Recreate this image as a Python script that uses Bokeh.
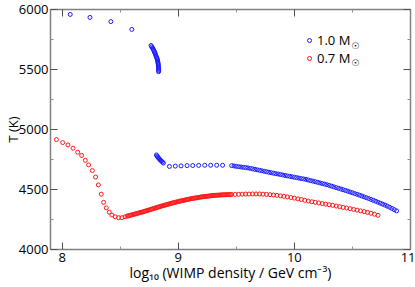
from bokeh.plotting import figure
from bokeh.models import (Range1d, LinearAxis, FixedTicker, Label, Legend,
                          LegendItem, CustomJSTickFormatter)
from bokeh.embed import file_html
from bokeh.resources import INLINE

FONT = "Open Sans"

# ---------------- data ----------------
x_start, x_end = 7.9, 11.0
y_start, y_end = 4000, 6000
x_major = [8, 9, 10, 11]
x_minor = [8.5, 9.5, 10.5]
y_major = [4000, 4500, 5000, 5500, 6000]
y_minor = [4250, 4750, 5250, 5750]

x_title = "log\u2081\u2080 (WIMP density / GeV cm\u207b\u00b3)"
y_title = "T (K)"
series_labels = ["1.0 M", "0.7 M"]

# 1.0 solar mass (blue)
blue_logrho = [
    8.07, 8.24, 8.42, 8.60,
    8.766, 8.772, 8.778, 8.784, 8.789, 8.794, 8.798, 8.802, 8.806, 8.810, 8.814, 8.818,
    8.821, 8.823, 8.825, 8.827, 8.828, 8.829, 8.830, 8.830, 8.831, 8.831, 8.831,
    8.812, 8.818, 8.824, 8.831, 8.838, 8.846, 8.855, 8.864, 8.872,
    8.924, 8.975, 9.024, 9.076, 9.125, 9.176, 9.228, 9.279, 9.331, 9.382,
    9.46, 9.48, 9.50, 9.52, 9.54, 9.56, 9.58, 9.60, 9.62, 9.64, 9.66, 9.68, 9.70,
    9.72, 9.74, 9.76, 9.78, 9.80, 9.82, 9.84, 9.86, 9.88, 9.90, 9.92, 9.94, 9.96,
    9.98, 10.00, 10.02, 10.04, 10.06, 10.08, 10.10, 10.12, 10.14, 10.16, 10.18,
    10.20, 10.22, 10.24, 10.26, 10.28, 10.30, 10.32, 10.34, 10.36, 10.38, 10.40,
    10.42, 10.44, 10.46, 10.48, 10.50, 10.52, 10.54, 10.56, 10.58, 10.60, 10.62,
    10.64, 10.66, 10.68, 10.70, 10.72, 10.74, 10.76, 10.78, 10.80, 10.82, 10.84,
    10.86, 10.88,
]
blue_T = [
    5959, 5934, 5899, 5834,
    5700, 5690, 5680, 5670, 5660, 5650, 5640, 5630, 5620, 5610, 5600, 5590,
    5580, 5570, 5560, 5550, 5540, 5530, 5520, 5510, 5500, 5490, 5482,
    4788, 4779, 4770, 4762, 4754, 4745, 4737, 4729, 4721,
    4692, 4695, 4697, 4699, 4700, 4701, 4702, 4702, 4702, 4702,
    4699, 4696, 4693, 4690, 4688, 4685, 4683, 4680, 4676, 4672, 4668, 4664, 4660,
    4656, 4652, 4648, 4644, 4640, 4636, 4632, 4629, 4625, 4621, 4617, 4613, 4610,
    4606, 4602, 4599, 4595, 4591, 4588, 4584, 4579, 4574, 4570, 4565,
    4560, 4555, 4550, 4545, 4540, 4534, 4528, 4522, 4516, 4510, 4504,
    4498, 4492, 4486, 4479, 4473, 4466, 4460, 4453, 4446, 4439, 4432,
    4425, 4417, 4410, 4402, 4394, 4386, 4378, 4370, 4361, 4352, 4342,
    4332, 4322,
]

# 0.7 solar mass (red)
red_logrho = [
    7.951, 8.005, 8.05, 8.094, 8.134, 8.168, 8.20, 8.228, 8.26, 8.288, 8.312,
    8.337, 8.357, 8.380, 8.406, 8.429, 8.457, 8.486, 8.515, 8.543,
    8.56, 8.57, 8.58, 8.59, 8.60, 8.61, 8.62, 8.63, 8.64, 8.65, 8.66, 8.67, 8.68,
    8.69, 8.70, 8.71, 8.72, 8.73, 8.74, 8.75, 8.76, 8.77, 8.78, 8.79, 8.80, 8.81,
    8.82, 8.83, 8.84, 8.85, 8.86, 8.87, 8.88, 8.89, 8.90, 8.91, 8.92, 8.93, 8.94,
    8.95, 8.96, 8.97, 8.98, 8.99, 9.00, 9.01, 9.02, 9.03, 9.04, 9.05, 9.06, 9.07,
    9.08, 9.09, 9.10, 9.11, 9.12, 9.13, 9.14, 9.15, 9.16, 9.17, 9.18, 9.19, 9.20,
    9.21, 9.22, 9.23, 9.24, 9.25, 9.26, 9.27, 9.28, 9.29, 9.30, 9.31, 9.32, 9.33,
    9.34, 9.35, 9.36, 9.37, 9.38, 9.39, 9.40, 9.41, 9.42, 9.43, 9.44, 9.45, 9.46,
    9.49, 9.52, 9.55, 9.58, 9.61, 9.64, 9.67, 9.70, 9.73, 9.76, 9.79, 9.82, 9.85,
    9.88, 9.91, 9.94, 9.97, 10.00, 10.03, 10.06, 10.09, 10.12, 10.15, 10.18,
    10.21, 10.24, 10.27, 10.30, 10.33, 10.36, 10.39, 10.42, 10.45, 10.48, 10.51,
    10.54, 10.57, 10.60, 10.63, 10.66, 10.69, 10.72,
]
red_T = [
    4916, 4891, 4871, 4844, 4811, 4784, 4743, 4705, 4658, 4604, 4538,
    4461, 4393, 4347, 4311, 4287, 4273, 4265, 4265, 4273,
    4278, 4281, 4283, 4286, 4288, 4291, 4294, 4296, 4299, 4302, 4304, 4307, 4310,
    4312, 4315, 4318, 4321, 4324, 4327, 4330, 4333, 4336, 4339, 4342, 4345, 4348,
    4351, 4354, 4357, 4360, 4363, 4365, 4368, 4371, 4374, 4377, 4379, 4382, 4385,
    4387, 4390, 4392, 4395, 4397, 4400, 4402, 4404, 4406, 4408, 4410, 4413, 4415,
    4417, 4419, 4421, 4423, 4424, 4426, 4428, 4430, 4431, 4433, 4435, 4436, 4438,
    4439, 4440, 4442, 4443, 4444, 4445, 4446, 4448, 4449, 4450, 4451, 4451, 4452,
    4453, 4453, 4454, 4455, 4455, 4456, 4456, 4456, 4457, 4457, 4457, 4458, 4458,
    4459, 4460, 4461, 4462, 4462, 4463, 4463, 4463, 4461, 4459, 4457, 4454, 4451,
    4447, 4443, 4438, 4433, 4428, 4422, 4416, 4410, 4404, 4398, 4393,
    4388, 4383, 4378, 4373, 4368, 4362, 4357, 4351, 4346, 4340, 4334,
    4328, 4322, 4316, 4309, 4302, 4294, 4285,
]

# ---------------- figure ----------------
p = figure(width=415, height=287,
           x_range=Range1d(x_start, x_end), y_range=Range1d(y_start, y_end),
           output_backend="svg", toolbar_location=None,
           min_border_left=50, min_border_right=5,
           min_border_top=9, min_border_bottom=38,
           x_axis_type=None, y_axis_type=None)
p.outline_line_color = None
p.background_fill_color = "white"
p.border_fill_color = "white"
p.xgrid.visible = False
p.ygrid.visible = False


def style_axis(ax, labels=True):
    ax.axis_line_color = "#808080"
    ax.axis_line_width = 1.5
    ax.major_tick_line_color = "#505050"
    ax.minor_tick_line_color = "#909090"
    ax.major_tick_in = 7
    ax.major_tick_out = 0
    ax.minor_tick_in = 3
    ax.minor_tick_out = 0
    ax.major_label_text_font = FONT
    ax.major_label_text_color = "black"
    ax.axis_label_text_font = FONT
    ax.axis_label_text_font_style = "normal"
    ax.axis_label_text_color = "black"
    if labels:
        ax.major_label_text_font_size = "13px"
        ax.major_label_standoff = 3
    else:
        ax.major_label_text_font_size = "0px"
        ax.major_label_standoff = 0
        ax.formatter = CustomJSTickFormatter(code="return ''")


xt = FixedTicker(ticks=x_major, minor_ticks=x_minor)
yt = FixedTicker(ticks=y_major, minor_ticks=y_minor)

xb = LinearAxis(ticker=xt, axis_label=x_title)
style_axis(xb, True)
xb.axis_label_text_font_size = "14px"
xb.axis_label_standoff = -2
p.add_layout(xb, "below")

xa = LinearAxis(ticker=xt)
style_axis(xa, False)
p.add_layout(xa, "above")

yl = LinearAxis(ticker=yt, axis_label=y_title)
style_axis(yl, True)
yl.major_label_standoff = 2
yl.axis_label_text_font_size = "13px"
yl.axis_label_standoff = -6
p.add_layout(yl, "left")

yr = LinearAxis(ticker=yt)
style_axis(yr, False)
p.add_layout(yr, "right")

rb = p.scatter(blue_logrho, blue_T, marker="circle", size=4,
               fill_color=None, line_color="#1a1aff", line_width=1)
rr = p.scatter(red_logrho, red_T, marker="circle", size=4,
               fill_color=None, line_color="#ff1a1a", line_width=1)

legend = Legend(items=[LegendItem(label=series_labels[0], renderers=[rb]),
                       LegendItem(label=series_labels[1], renderers=[rr])],
                location=(254, 182), orientation="vertical",
                glyph_width=10, glyph_height=10, label_standoff=3,
                label_height=17, spacing=0, padding=0, margin=0,
                border_line_color=None, background_fill_alpha=0,
                label_text_font=FONT, label_text_font_size="13px",
                label_text_color="black")
p.add_layout(legend)

# subscript sun symbols of the legend
for i in range(2):
    p.add_layout(Label(x=x_end, y=y_end, x_offset=-55, y_offset=-36 - 17 * i,
                       text="\u2609", text_font="DejaVu Sans",
                       text_font_size="9px", text_align="center",
                       text_baseline="middle", text_color="black"))

open("out.html", "w").write(file_html(p, INLINE))
